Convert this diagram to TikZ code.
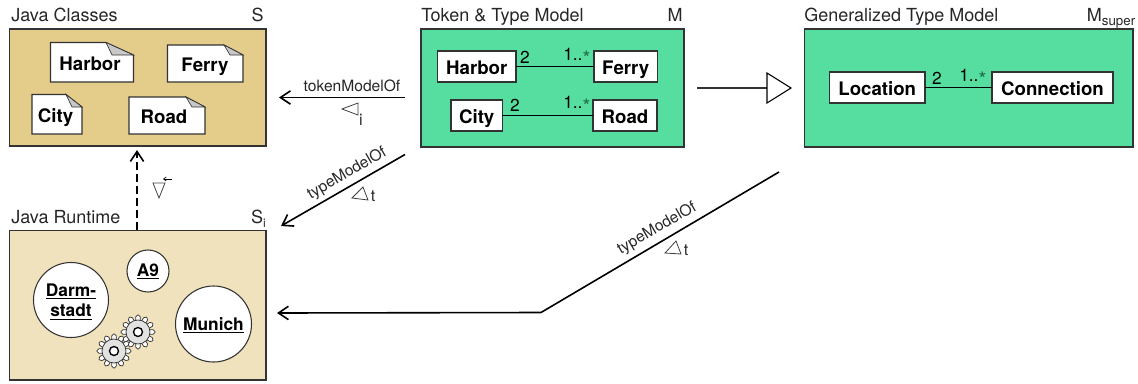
\documentclass[tikz,border=0pt]{standalone}
\usepackage{fontspec}
\setmainfont{TeX Gyre Heros}
\usetikzlibrary{arrows.meta,calc}
\definecolor{tanA}{HTML}{E4CC8B}
\definecolor{tanB}{HTML}{F0E2BC}
\definecolor{greenA}{HTML}{55DE9F}
\definecolor{edge}{HTML}{333333}
\definecolor{foldgray}{HTML}{C8C8C8}
\definecolor{geargray}{HTML}{E2E2E2}
\definecolor{stargreen}{HTML}{1F6B4A}
\tikzset{
  x=0.75pt,y=-0.75pt,
  panel/.style={draw=edge,line width=1.1pt,inner sep=0pt,outer sep=0pt,anchor=north west},
  title/.style={inner sep=0pt,font=\fontsize{13.5}{16}\selectfont,text=black!85},
  cls/.style={draw=edge,fill=white,line width=0.9pt,inner sep=0pt,outer sep=0pt,minimum height=23.25pt,text height=14pt,text depth=2pt,anchor=north west,font=\fontsize{14}{16}\bfseries\selectfont},
  notetext/.style={inner sep=0pt,anchor=base,font=\fontsize{14}{16}\bfseries\selectfont},
  notepath/.style={draw=edge,fill=white,line width=0.8pt},
  foldpath/.style={draw=edge,fill=foldgray,line width=0.5pt},
  inst/.style={circle,draw=edge,fill=white,line width=0.8pt,inner sep=0pt,outer sep=0pt},
  instlabel/.style={inner sep=0pt,align=center,font=\fontsize{13}{15.5}\bfseries\selectfont},
  assoc/.style={draw=black,line width=0.9pt},
  mult/.style={inner sep=0pt,font=\fontsize{13}{15}\selectfont},
  rel/.style={draw=black,line width=1.2pt,-{Straight Barb[length=7.5pt,width=10pt,line width=1.2pt]}},
  rellabel/.style={inner sep=0pt,font=\fontsize{11.7}{13}\selectfont,text=black!85},
  tri/.style={draw=black!75,line width=0.6pt},
  sub/.style={inner sep=0pt,font=\fontsize{12}{13}\selectfont,text=black!85},
}
\newcommand{\stargl}{1..\textcolor{stargreen}{\raisebox{-0.55ex}{\fontsize{15}{15}\selectfont *}}}
% x1 x2 y1 y2 foldx foldy
\newcommand{\notebox}[6]{%
  \draw[notepath] (#1,#3) -- (#5,#3) -- (#2,#6) -- (#2,#4) -- (#1,#4) -- cycle;
  \draw[foldpath] (#5,#3) -- (#2,#6) -- ($(#5,#6)+(6,0)$) -- cycle;
}
\newcommand{\gear}[2]{%
  \begin{scope}[shift={(#1,#2)}]
    \foreach \a in {0,30,...,330}{
      \draw[rotate=\a,draw=black!80,fill=white,line width=0.55pt,rounded corners=1.4pt]
        (10,-2.3) rectangle (17,2.3);
    }
    \fill[geargray,draw=black!80,line width=0.55pt] (0,0) circle[radius=12];
    \fill[white,draw=black,line width=1pt] (0,0) circle[radius=4.5];
  \end{scope}
}
\begin{document}
\begin{tikzpicture}
\useasboundingbox (0,0) rectangle (1138,383);
% panels
\node[panel,fill=tanA,minimum width=192.4pt,minimum height=87.75pt] (s) at (9.5,29) {};
\node[panel,fill=tanB,minimum width=192.4pt,minimum height=112pt] (si) at (9.5,230.5) {};
\node[panel,fill=greenA,minimum width=197.2pt,minimum height=88.5pt] (m) at (421,29) {};
\node[panel,fill=greenA,minimum width=246.4pt,minimum height=88.5pt] (ms) at (804.5,29) {};
% titles
\node[title,anchor=base west] (t1) at (11,21) {Java Classes};
\node[title,anchor=base east] (t1r) at (264,21) {S};
\node[title,anchor=base west] (t2) at (11,223) {Java Runtime};
\node[title,anchor=base east] (t2r) at (266,223) {S\raisebox{-0.45ex}{\fontsize{9}{9}\selectfont i}};
\node[title,anchor=base west] (t3) at (421,21) {Token \& Type Model};
\node[title,anchor=base east] (t3r) at (683,21) {M};
\node[title,anchor=base west] (t4) at (804,21) {Generalized Type Model};
\node[title,anchor=base east] (t4r) at (1135.5,21) {M\raisebox{-0.45ex}{\fontsize{10}{10}\selectfont super}};
% java class notes
\notebox{50.5}{133.5}{42.5}{82}{106}{55}
\node[notetext] (nh) at (90,70) {Harbor};
\notebox{167.5}{243}{45}{82}{224}{55}
\node[notetext] (nf) at (205,71.5) {Ferry};
\notebox{32}{82}{94.5}{134}{66}{107}
\node[notetext] (nc) at (55.5,122) {City};
\notebox{129}{205}{97}{134}{186}{107}
\node[notetext] (nr) at (164,123) {Road};
% runtime instances
\node[inst,minimum size=56.25pt] (darm) at (71,300) {};
\node[instlabel] (darmt) at (71,301.5) {\underline{Darm-}\\\underline{stadt}};
\node[inst,minimum size=31.5pt] (a9) at (148,271) {};
\node[instlabel] (a9t) at (148,271.5) {\underline{A9}};
\node[inst,minimum size=57pt] (mun) at (213.5,324) {};
\node[instlabel] (munt) at (213.5,325.5) {\underline{Munich}};
\gear{138}{332}
\gear{114}{351}
% token & type model
\node[cls,minimum width=58.9pt] (h) at (437.5,51) {Harbor};
\node[cls,minimum width=47.6pt] (f) at (594,51) {Ferry};
\node[cls,minimum width=38.6pt] (c) at (451,100) {City};
\node[cls,minimum width=48pt] (r) at (593,100) {Road};
\draw[assoc] (h.east) -- (f.west);
\draw[assoc] (c.east) -- (r.west);
\node[mult] (m1) at (525,57) {2};
\node[mult,anchor=west] (m2) at (563,57) {\stargl};
\node[mult] (m3) at (515,105) {2};
\node[mult,anchor=west] (m4) at (563,105) {\stargl};
% generalized model
\node[cls,minimum width=71.6pt] (l) at (829.5,72) {Location};
\node[cls,minimum width=90.75pt] (co) at (992,72) {Connection};
\draw[assoc] (l.east) -- (co.west);
\node[mult] (m5) at (937,78) {2};
\node[mult,anchor=west] (m6) at (959,78) {\stargl};
% connectors
\coordinate (a1) at (405,97.5); \coordinate (a2) at (279,97.5);
\draw[rel] (a1) -- (a2);
\node[rellabel] (l1) at (352,85.5) {tokenModelOf};
\draw[tri] (342,109) -- (358,103) -- (358,115) -- cycle;
\node[sub] (l1s) at (361,119.5) {i};
\coordinate (b1) at (405,154.5); \coordinate (b2) at (281,226);
\draw[rel] (b1) -- (b2);
\node[rellabel,rotate=30] (l2) at (347,173.5) {typeModelOf};
\draw[tri] (352,198) -- (363,187) -- (368,200) -- cycle;
\node[sub] (l2s) at (373,196.5) {t};
\coordinate (e1) at (779,172); \coordinate (e2) at (541,312.5); \coordinate (e3) at (277,313);
\draw[rel,line join=round] (e1) -- (e2) -- (e3);
\node[rellabel,rotate=30] (l3) at (657,228.5) {typeModelOf};
\draw[tri] (665,253) -- (676,241) -- (681,254) -- cycle;
\node[sub] (l3s) at (686,250) {t};
\coordinate (d1) at (137,230); \coordinate (d2) at (137,150);
\draw[rel,dash pattern=on 6pt off 3pt] (d1) -- (d2);
\draw[tri] (153,183) -- (165,183) -- (159,198) -- cycle;
\coordinate (ra) at (172,179); \coordinate (rb) at (163,179);
\draw[draw=black,line width=0.6pt,-{Straight Barb[length=2pt,width=3pt,line width=0.5pt]}] (ra) -- (rb);
% refinement arrow
\coordinate (g1) at (697,88); \coordinate (g2) at (767,88);
\draw[draw=edge,line width=1.1pt] (g1) -- (g2);
\draw[draw=black,fill=white,line width=0.8pt] (767,73) -- (791,88) -- (767,103) -- cycle;
\end{tikzpicture}
\end{document}
